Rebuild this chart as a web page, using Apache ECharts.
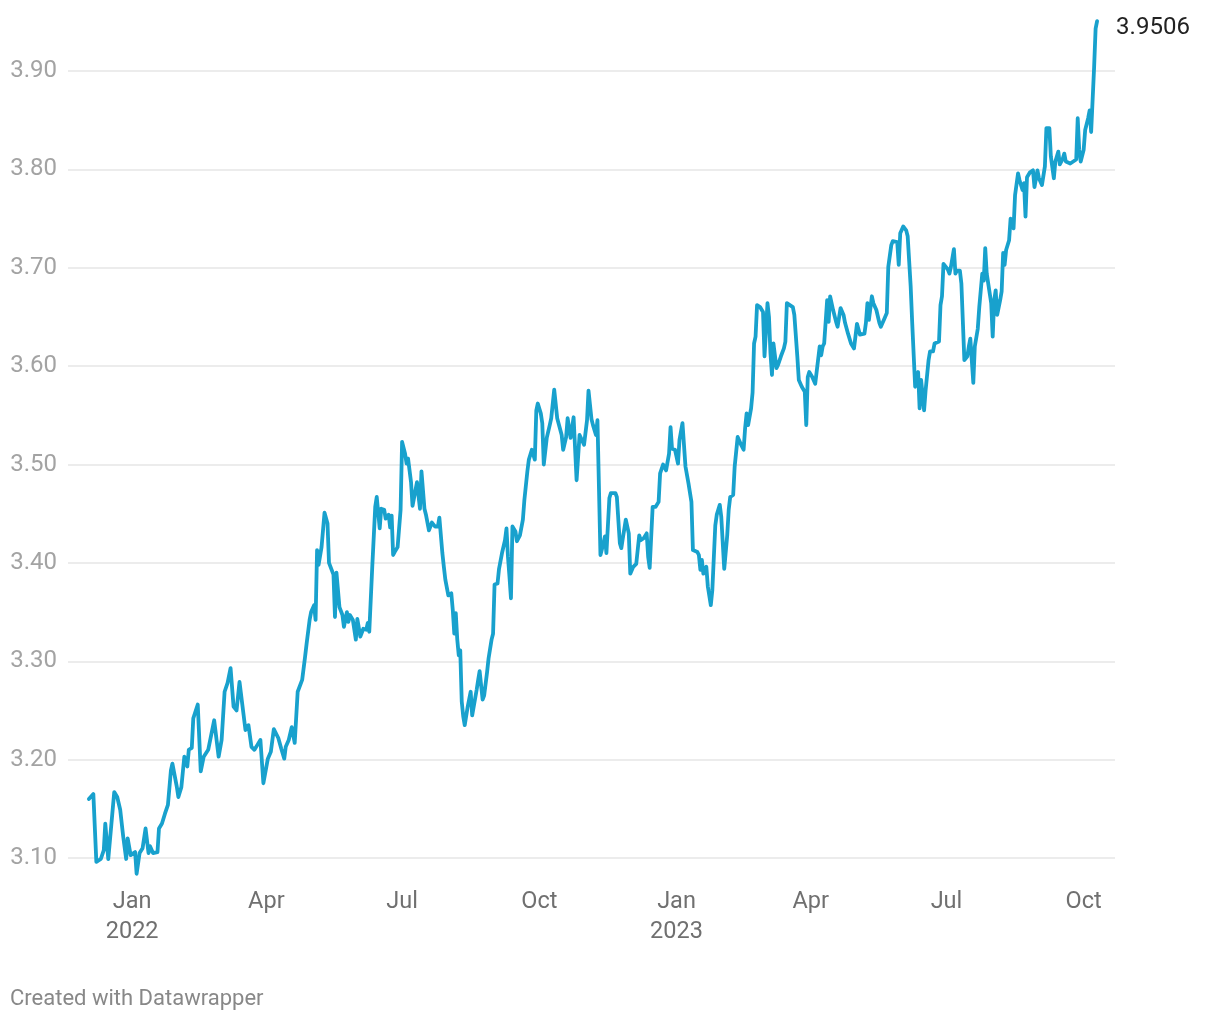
<!DOCTYPE html>
<html>
<head>
<meta charset="utf-8">
<script src="https://cdn.jsdelivr.net/npm/echarts@6/dist/echarts.min.js"></script>
<style>
html,body{margin:0;padding:0;background:#fff;}
#chart{width:1220px;height:1020px;}
</style>
</head>
<body>
<div id="chart"></div>
<script>
// Daily rate series: [date, value]
const rateSeries = [
['2021-12-03',3.160],['2021-12-06',3.165],['2021-12-08',3.096],['2021-12-11',3.099],['2021-12-13',3.108],['2021-12-14',3.135],['2021-12-16',3.099],['2021-12-20',3.167],['2021-12-22',3.162],['2021-12-24',3.149],['2021-12-26',3.122],['2021-12-28',3.099],['2021-12-29',3.120],['2021-12-31',3.103],
['2022-01-03',3.106],['2022-01-04',3.084],['2022-01-06',3.105],['2022-01-08',3.110],['2022-01-10',3.130],['2022-01-12',3.105],['2022-01-13',3.112],['2022-01-15',3.105],['2022-01-18',3.106],['2022-01-19',3.130],['2022-01-21',3.135],['2022-01-23',3.145],['2022-01-25',3.154],['2022-01-27',3.189],['2022-01-28',3.196],['2022-01-31',3.172],
['2022-02-01',3.162],['2022-02-03',3.172],['2022-02-05',3.203],['2022-02-07',3.193],['2022-02-08',3.210],['2022-02-10',3.212],['2022-02-11',3.242],['2022-02-14',3.256],['2022-02-16',3.188],['2022-02-18',3.203],['2022-02-21',3.210],['2022-02-25',3.240],['2022-02-28',3.203],
['2022-03-02',3.220],['2022-03-04',3.269],['2022-03-06',3.278],['2022-03-08',3.293],['2022-03-10',3.254],['2022-03-12',3.250],['2022-03-14',3.279],['2022-03-18',3.230],['2022-03-20',3.235],['2022-03-22',3.213],['2022-03-24',3.210],['2022-03-26',3.215],['2022-03-28',3.220],['2022-03-30',3.176],
['2022-04-02',3.201],['2022-04-04',3.208],['2022-04-06',3.231],['2022-04-09',3.222],['2022-04-11',3.211],['2022-04-13',3.201],['2022-04-14',3.213],['2022-04-16',3.220],['2022-04-18',3.233],['2022-04-19',3.234],['2022-04-20',3.217],['2022-04-22',3.269],['2022-04-25',3.281],['2022-04-27',3.305],['2022-04-28',3.318],['2022-04-30',3.342],
['2022-05-01',3.350],['2022-05-03',3.357],['2022-05-04',3.342],['2022-05-05',3.413],['2022-05-06',3.398],['2022-05-08',3.416],['2022-05-10',3.451],['2022-05-12',3.440],['2022-05-13',3.400],['2022-05-16',3.388],['2022-05-17',3.345],['2022-05-18',3.390],['2022-05-20',3.355],['2022-05-22',3.347],['2022-05-23',3.335],['2022-05-25',3.350],['2022-05-26',3.340],['2022-05-27',3.347],['2022-05-29',3.342],['2022-05-31',3.322],
['2022-06-01',3.343],['2022-06-03',3.325],['2022-06-05',3.333],['2022-06-07',3.332],['2022-06-08',3.339],['2022-06-09',3.330],['2022-06-11',3.396],['2022-06-13',3.457],['2022-06-14',3.467],['2022-06-16',3.435],['2022-06-17',3.455],['2022-06-19',3.454],['2022-06-20',3.445],['2022-06-22',3.449],['2022-06-23',3.436],['2022-06-24',3.448],['2022-06-25',3.408],['2022-06-26',3.411],['2022-06-28',3.416],['2022-06-30',3.454],
['2022-07-01',3.523],['2022-07-03',3.511],['2022-07-04',3.501],['2022-07-05',3.506],['2022-07-07',3.482],['2022-07-08',3.458],['2022-07-10',3.474],['2022-07-11',3.482],['2022-07-13',3.455],['2022-07-14',3.493],['2022-07-16',3.455],['2022-07-17',3.449],['2022-07-19',3.433],['2022-07-21',3.441],['2022-07-23',3.437],['2022-07-25',3.437],['2022-07-26',3.446],['2022-07-28',3.410],['2022-07-29',3.396],['2022-07-30',3.383],
['2022-08-01',3.367],['2022-08-03',3.369],['2022-08-04',3.352],['2022-08-05',3.328],['2022-08-06',3.349],['2022-08-07',3.322],['2022-08-08',3.306],['2022-08-09',3.311],['2022-08-10',3.259],['2022-08-11',3.244],['2022-08-12',3.235],['2022-08-14',3.254],['2022-08-16',3.269],['2022-08-17',3.245],['2022-08-18',3.245],['2022-08-20',3.271],['2022-08-21',3.281],['2022-08-22',3.290],['2022-08-24',3.261],['2022-08-25',3.265],['2022-08-27',3.289],['2022-08-28',3.303],['2022-08-30',3.322],['2022-08-31',3.328],
['2022-09-01',3.378],['2022-09-03',3.379],['2022-09-04',3.394],['2022-09-06',3.410],['2022-09-08',3.423],['2022-09-09',3.435],['2022-09-10',3.406],['2022-09-11',3.386],['2022-09-12',3.364],['2022-09-13',3.437],['2022-09-15',3.432],['2022-09-16',3.422],['2022-09-18',3.428],['2022-09-20',3.444],['2022-09-21',3.464],['2022-09-23',3.493],['2022-09-24',3.505],['2022-09-26',3.515],['2022-09-28',3.505],['2022-09-29',3.555],['2022-09-30',3.562],
['2022-10-02',3.552],['2022-10-03',3.542],['2022-10-04',3.500],['2022-10-06',3.527],['2022-10-08',3.540],['2022-10-09',3.547],['2022-10-11',3.576],['2022-10-13',3.547],['2022-10-14',3.549],['2022-10-16',3.530],['2022-10-17',3.515],['2022-10-19',3.528],['2022-10-20',3.547],['2022-10-22',3.527],['2022-10-23',3.528],['2022-10-24',3.548],['2022-10-26',3.484],['2022-10-28',3.530],['2022-10-29',3.528],['2022-10-31',3.520],
['2022-11-02',3.545],['2022-11-03',3.575],['2022-11-05',3.546],['2022-11-06',3.540],['2022-11-08',3.530],['2022-11-09',3.545],['2022-11-11',3.408],['2022-11-13',3.420],['2022-11-14',3.427],['2022-11-15',3.410],['2022-11-17',3.466],['2022-11-18',3.471],['2022-11-21',3.471],['2022-11-22',3.467],['2022-11-24',3.420],['2022-11-25',3.415],['2022-11-26',3.425],['2022-11-28',3.444],['2022-11-30',3.430],
['2022-12-01',3.389],['2022-12-03',3.396],['2022-12-05',3.399],['2022-12-07',3.428],['2022-12-08',3.423],['2022-12-10',3.425],['2022-12-12',3.430],['2022-12-13',3.406],['2022-12-14',3.395],['2022-12-16',3.457],['2022-12-18',3.457],['2022-12-20',3.462],['2022-12-21',3.491],['2022-12-23',3.500],['2022-12-25',3.494],['2022-12-27',3.511],['2022-12-28',3.538],['2022-12-29',3.516],['2022-12-31',3.515],
['2023-01-01',3.508],['2023-01-02',3.501],['2023-01-03',3.525],['2023-01-05',3.542],['2023-01-07',3.498],['2023-01-09',3.481],['2023-01-11',3.462],['2023-01-12',3.413],['2023-01-15',3.411],['2023-01-16',3.408],['2023-01-17',3.393],['2023-01-18',3.403],['2023-01-19',3.389],['2023-01-21',3.396],['2023-01-22',3.376],['2023-01-24',3.357],['2023-01-25',3.372],['2023-01-27',3.438],['2023-01-28',3.449],['2023-01-30',3.459],['2023-01-31',3.447],
['2023-02-02',3.394],['2023-02-04',3.428],['2023-02-05',3.454],['2023-02-06',3.467],['2023-02-08',3.469],['2023-02-09',3.498],['2023-02-10',3.500],['2023-02-11',3.528],['2023-02-13',3.521],['2023-02-15',3.515],['2023-02-16',3.537],['2023-02-17',3.552],['2023-02-18',3.540],['2023-02-20',3.557],['2023-02-21',3.573],['2023-02-22',3.623],['2023-02-23',3.630],['2023-02-24',3.662],['2023-02-26',3.660],['2023-02-28',3.655],
['2023-03-01',3.610],['2023-03-03',3.664],['2023-03-04',3.650],['2023-03-05',3.613],['2023-03-06',3.591],['2023-03-07',3.623],['2023-03-09',3.598],['2023-03-10',3.601],['2023-03-12',3.610],['2023-03-14',3.618],['2023-03-15',3.625],['2023-03-16',3.664],['2023-03-17',3.666],['2023-03-20',3.660],['2023-03-21',3.652],['2023-03-23',3.610],['2023-03-24',3.586],['2023-03-26',3.579],['2023-03-28',3.574],['2023-03-29',3.540],['2023-03-30',3.589],['2023-03-31',3.594],
['2023-04-02',3.589],['2023-04-04',3.582],['2023-04-05',3.581],['2023-04-07',3.620],['2023-04-08',3.611],['2023-04-09',3.620],['2023-04-10',3.623],['2023-04-12',3.667],['2023-04-13',3.645],['2023-04-14',3.671],['2023-04-16',3.657],['2023-04-18',3.645],['2023-04-19',3.640],['2023-04-21',3.659],['2023-04-23',3.652],['2023-04-24',3.644],['2023-04-26',3.633],['2023-04-28',3.623],['2023-04-30',3.618],
['2023-05-02',3.643],['2023-05-03',3.644],['2023-05-04',3.632],['2023-05-07',3.633],['2023-05-08',3.644],['2023-05-09',3.664],['2023-05-10',3.647],['2023-05-12',3.671],['2023-05-13',3.664],['2023-05-15',3.657],['2023-05-17',3.644],['2023-05-18',3.640],['2023-05-20',3.647],['2023-05-22',3.654],['2023-05-23',3.701],['2023-05-25',3.723],['2023-05-26',3.727],['2023-05-29',3.726],['2023-05-30',3.703],['2023-05-31',3.735],
['2023-06-02',3.742],['2023-06-04',3.738],['2023-06-05',3.732],['2023-06-07',3.681],['2023-06-08',3.645],['2023-06-09',3.647],['2023-06-10',3.579],['2023-06-11',3.584],['2023-06-12',3.594],['2023-06-13',3.557],['2023-06-14',3.586],['2023-06-16',3.555],['2023-06-17',3.575],['2023-06-19',3.606],['2023-06-20',3.615],['2023-06-22',3.615],['2023-06-23',3.623],['2023-06-26',3.625],['2023-06-27',3.662],['2023-06-28',3.671],['2023-06-29',3.704],['2023-06-30',3.705],
['2023-07-02',3.698],['2023-07-03',3.694],['2023-07-04',3.701],['2023-07-06',3.719],['2023-07-07',3.694],['2023-07-08',3.697],['2023-07-10',3.697],['2023-07-11',3.684],['2023-07-13',3.606],['2023-07-14',3.604],['2023-07-15',3.610],['2023-07-16',3.620],['2023-07-17',3.628],['2023-07-19',3.583],['2023-07-20',3.620],['2023-07-22',3.638],['2023-07-23',3.660],['2023-07-25',3.694],['2023-07-26',3.687],['2023-07-27',3.720],['2023-07-28',3.694],['2023-07-31',3.664],
['2023-08-01',3.630],['2023-08-02',3.667],['2023-08-03',3.677],['2023-08-04',3.652],['2023-08-06',3.667],['2023-08-07',3.676],['2023-08-08',3.715],['2023-08-09',3.703],['2023-08-10',3.718],['2023-08-12',3.728],['2023-08-13',3.750],['2023-08-15',3.740],['2023-08-16',3.774],['2023-08-18',3.796],['2023-08-19',3.789],['2023-08-21',3.779],['2023-08-22',3.786],['2023-08-23',3.752],['2023-08-24',3.792],['2023-08-26',3.797],['2023-08-28',3.799],['2023-08-29',3.782],['2023-08-31',3.799],
['2023-09-01',3.791],['2023-09-03',3.784],['2023-09-04',3.782],['2023-09-05',3.803],['2023-09-06',3.842],['2023-09-08',3.842],['2023-09-09',3.813],['2023-09-11',3.791],['2023-09-12',3.808],['2023-09-14',3.818],['2023-09-15',3.805],['2023-09-17',3.811],['2023-09-18',3.816],['2023-09-19',3.808],['2023-09-20',3.810],['2023-09-22',3.806],['2023-09-24',3.808],['2023-09-26',3.810],['2023-09-27',3.852],['2023-09-28',3.820],['2023-09-29',3.808],
['2023-10-01',3.820],['2023-10-02',3.840],['2023-10-04',3.852],['2023-10-05',3.860],['2023-10-06',3.838],['2023-10-08',3.904],['2023-10-09',3.943],['2023-10-10',3.9506]
];

// X tick label dates and labels
const xTickDates = ['2022-01-01','2022-04-01','2022-07-01','2022-10-01','2023-01-01','2023-04-01','2023-07-01','2023-10-01'];
const xTickLabels = ['Jan\n2022','Apr','Jul','Oct','Jan\n2023','Apr','Jul','Oct'];
// Y axis ticks
const yTicks = [3.10,3.20,3.30,3.40,3.50,3.60,3.70,3.80,3.90];
const footerText = 'Created with Datawrapper';

const ts = d => { const p = d.split('-').map(Number); return Date.UTC(p[0], p[1]-1, p[2]); };
const tickTs = xTickDates.map(ts);
const labelFor = {};
tickTs.forEach((t,i)=>{ labelFor[t] = xTickLabels[i]; });

const chart = echarts.init(document.getElementById('chart'), null, {renderer:'canvas'});
const FONT = 'Roboto, "Noto Sans", sans-serif';

chart.setOption({
  animation: false,
  backgroundColor: '#ffffff',
  title: {
    text: footerText,
    left: 5,
    top: 983,
    textStyle: { fontFamily: FONT, fontSize: 22, fontWeight: 'normal', color: '#888888' }
  },
  grid: { left: 68, right: 105, top: 71, bottom: 162, containLabel: false },
  xAxis: {
    type: 'value',
    min: ts('2021-11-19'),
    max: ts('2023-10-22'),
    axisLine: { show: false },
    axisTick: { show: false },
    splitLine: { show: false },
    axisLabel: {
      customValues: tickTs,
      formatter: v => labelFor[v] || '',
      fontFamily: FONT,
      fontSize: 23.5,
      color: '#707070',
      lineHeight: 30,
      margin: 29,
      hideOverlap: false
    }
  },
  yAxis: {
    type: 'value',
    min: yTicks[0],
    max: yTicks[yTicks.length-1],
    interval: 0.1,
    axisLine: { show: false },
    axisTick: { show: false },
    splitLine: { show: true, lineStyle: { color: '#e6e6e6', width: 1.6 } },
    axisLabel: {
      formatter: v => v.toFixed(2),
      fontFamily: FONT,
      fontSize: 24,
      color: '#a3a3a3',
      margin: 11
    }
  },
  series: [{
    type: 'line',
    data: rateSeries.map(r => [ts(r[0]), r[1]]),
    showSymbol: false,
    symbol: 'none',
    clip: false,
    lineStyle: { color: '#18a1cd', width: 3.8, join: 'round', cap: 'round' },
    endLabel: {
      show: true,
      formatter: p => p.value[1].toFixed(4),
      fontFamily: FONT,
      fontSize: 24,
      color: '#222222',
      distance: 19,
      offset: [0, 7]
    }
  }]
});
</script>
</body>
</html>
